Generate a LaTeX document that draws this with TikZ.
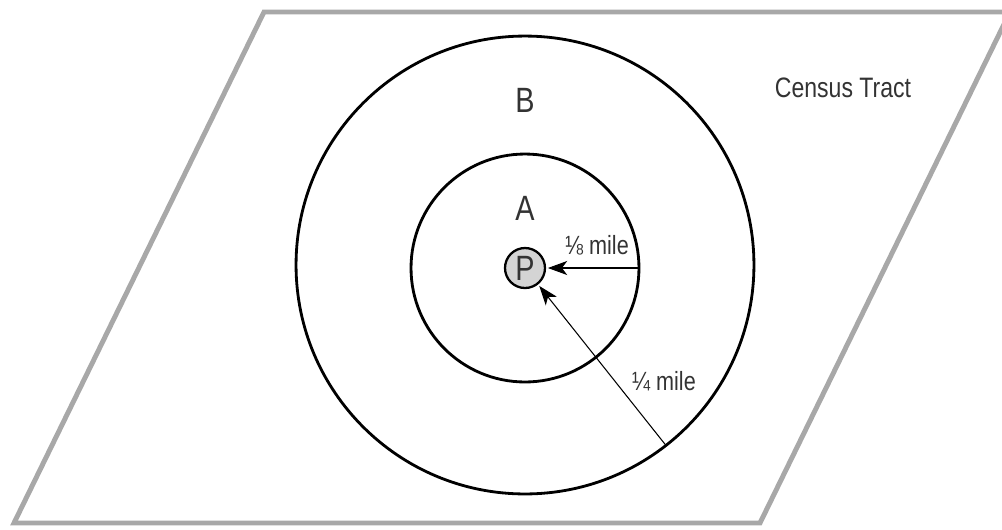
\documentclass[tikz,border=0pt]{standalone}
\usepackage{fontspec}
\setmainfont{Liberation Sans}[FakeStretch=0.82]
\usetikzlibrary{arrows.meta}

\definecolor{tractgray}{HTML}{A8A8A8}
\definecolor{labelgray}{HTML}{333333}
\definecolor{pointfill}{HTML}{D4D4D4}

\tikzset{
  ring/.style={circle, draw=black, line width=1.6pt, inner sep=0pt, outer sep=0pt},
  zonelabel/.style={text=labelgray, font=\fontsize{20}{20}\selectfont},
  distlabel/.style={text=labelgray, font=\fontsize{15}{15}\selectfont},
  radiusarrow/.style={-{Stealth[length=11pt, width=8pt, inset=3pt]}, line width=0.6pt, shorten >=1pt},
}

\begin{document}
\begin{tikzpicture}[x=0.02cm, y=-0.02cm]
  \useasboundingbox (0,0) rectangle (1002,529);

  %% --- census tract outline ---
  \draw[tractgray, line width=2.8pt, line join=miter]
    (264,12) -- (1010,12) -- (760,523) -- (14,523) -- cycle;
  \node[distlabel, font=\fontsize{16}{16}\selectfont] (tract) at (843,88) {Census Tract};

  %% --- the two zones round P ---
  \node[ring, minimum size=9.16cm] (outer) at (525,265) {};
  \node[ring, minimum size=4.56cm] (inner) at (525,268) {};
  \node[zonelabel] (zoneB) at (525,100) {B};
  \node[zonelabel] (zoneA) at (525,208) {A};

  %% point P
  \node[circle, draw=black, line width=1.3pt, fill=pointfill, minimum size=0.8cm,
        inner sep=0pt, text=labelgray, font=\fontsize{20}{20}\selectfont] (P) at (525,268) {P};

  %% --- radii ---
  \draw[radiusarrow] (inner.east) -- (P);
  \node[distlabel] (eighth) at (597,245) {⅛ mile};

  \coordinate (rimB) at (outer.-52.5);
  \draw[radiusarrow] (rimB) -- (P);
  \node[distlabel] (quarter) at (664,381) {¼ mile};
\end{tikzpicture}
\end{document}
